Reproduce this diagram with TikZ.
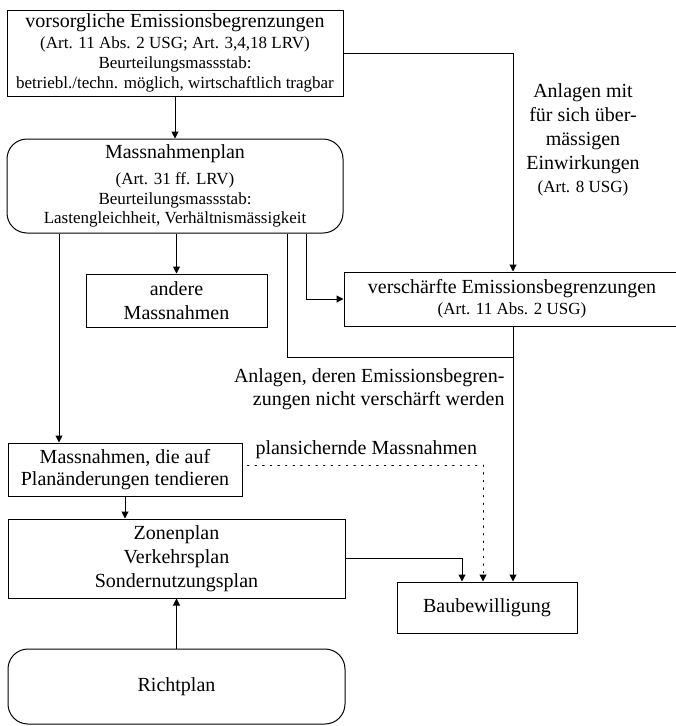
\documentclass[tikz,border=0pt]{standalone}
\usepackage{fontspec}
\setmainfont{Liberation Serif}
\usetikzlibrary{arrows.meta}
\newcommand{\fsA}{\fontsize{20}{24}\selectfont}
\newcommand{\fsAn}{\fontsize{20}{22}\selectfont}
\newcommand{\fsB}{\fontsize{17}{20}\selectfont}
\begin{document}
\begin{tikzpicture}[x=1pt,y=-1pt,line width=1pt,
  box/.style={draw, rectangle, inner sep=0pt},
  rbox/.style={draw, rectangle, rounded corners=20pt, inner sep=0pt},
  txt/.style={anchor=base, inner sep=0pt, font=\fsA},
  stxt/.style={anchor=base, inner sep=0pt, font=\fsB},
  arr/.style={-{Triangle[length=7pt,width=7pt]}},
  dots/.style={dash pattern=on 1.4pt off 6.2pt, line cap=round}
]
\useasboundingbox (0,0) rectangle (676,726);
\clip (0,0) rectangle (676,726);

% boxes
\node[box, minimum width=336pt, minimum height=86pt] (top) at (175,53) {};
\node[rbox, minimum width=336pt, minimum height=94pt] (mplan) at (175,186) {};
\node[box, minimum width=181pt, minimum height=53pt, align=center, font=\fsA] (andere) at (176.5,300.5) {andere\\Massnahmen};
\node[box, minimum width=338pt, minimum height=54pt] (versch) at (513,299) {};
\node[box, minimum width=234pt, minimum height=53pt, align=center, font=\fsAn] (mdie) at (125,469.5) {Massnahmen, die auf\\Planänderungen tendieren};
\node[box, minimum width=337pt, minimum height=79pt, align=center, font=\fsA] (zonen) at (176.5,558.5) {Zonenplan\\Verkehrsplan\\Sondernutzungsplan};
\node[box, minimum width=180pt, minimum height=51pt, font=\fsA] (bau) at (487,607.5) {Baubewilligung};
\node[rbox, minimum width=337pt, minimum height=75pt, font=\fsA] (richt) at (176.5,686.5) {Richtplan};

% texts of top box
\node[txt] (t1) at (175,27) {vorsorgliche Emissionsbegrenzungen};
\node[stxt] (t2) at (175,48) {(Art. 11 Abs. 2 USG; Art. 3,4,18 LRV)};
\node[stxt] (t3) at (175,68) {Beurteilungsmassstab:};
\node[stxt] (t4) at (175,88) {betriebl./techn. möglich, wirtschaftlich tragbar};

% texts of Massnahmenplan
\node[txt] (m1) at (175,158) {Massnahmenplan};
\node[stxt] (m2) at (175,184) {(Art. 31 ff. LRV)};
\node[stxt] (m3) at (175,204) {Beurteilungsmassstab:};
\node[stxt] (m4) at (175,223) {Lastengleichheit, Verhältnismässigkeit};

% texts of verschaerfte
\node[txt] (v1) at (512,293) {verschärfte Emissionsbegrenzungen};
\node[stxt] (v2) at (512,314) {(Art. 11 Abs. 2 USG)};

% free labels
\node[txt] (l1) at (583,97) {Anlagen mit};
\node[txt] (l2) at (583,121) {für sich über-};
\node[txt] (l3) at (583,145) {mässigen};
\node[txt] (l4) at (583,169) {Einwirkungen};
\node[stxt] (l5) at (583,192) {(Art. 8 USG)};

\node[txt, anchor=base east] (n1) at (505,382) {Anlagen, deren Emissionsbegren-};
\node[txt, anchor=base east] (n2) at (505,405) {zungen nicht verschärft werden};

\node[txt, anchor=base west] (p1) at (255,454) {plansichernde Massnahmen};

% connectors
\coordinate (j1) at (513,357);
\draw[arr] (top.south) -- (mplan.north);
\draw[arr] (top.east) -| (versch.north);
\draw[arr] (59,0 |- mplan.south) -- (59,0 |- mdie.north);
\draw[arr] (mplan.south -| andere.north) -- (andere.north);
\draw (287,0 |- mplan.south) |- (j1);
\draw[arr] (306,0 |- mplan.south) |- (versch.west);
\draw[arr] (versch.south) -- (bau.north -| versch.south);
\draw[dots, arr, shorten <=5pt] (mdie.east |- 0,465) -| (483,0 |- bau.north);
\draw[arr] (mdie.south) -- (zonen.north -| mdie.south);
\draw[arr] (zonen.east) -| (462,0 |- bau.north);
\draw[arr] (richt.north) -- (zonen.south);
\end{tikzpicture}
\end{document}
